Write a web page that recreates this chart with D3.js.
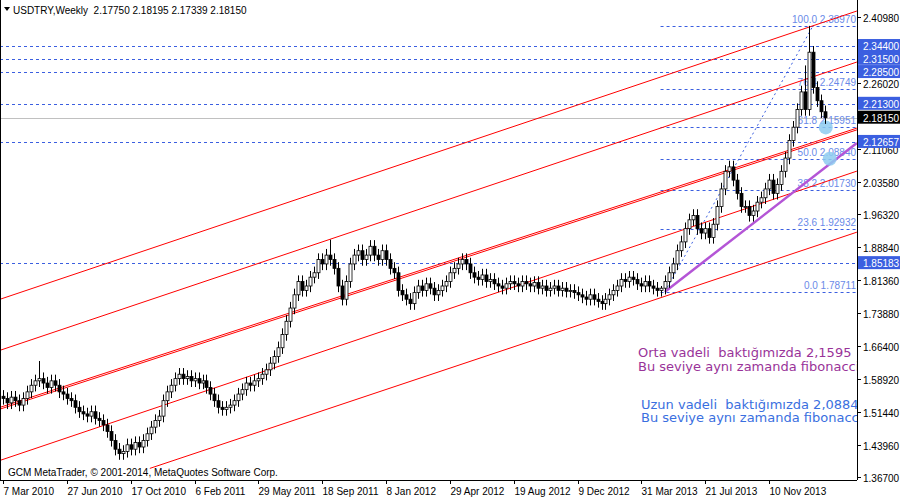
<!DOCTYPE html>
<html><head><meta charset="utf-8">
<script src="https://cdn.jsdelivr.net/npm/d3@7/dist/d3.min.js"></script>
<style>body{margin:0;background:#fff}svg{font-family:"Liberation Sans",Arial,sans-serif}</style>
</head><body><svg id="c" width="900" height="500"></svg>
<script>
const closes = [
1.545,1.535,1.548,1.540,1.530,1.545,1.560,1.575,1.585,1.590,
1.580,1.570,1.585,1.575,1.560,1.555,1.545,1.540,1.525,1.515,
1.510,1.505,1.515,1.500,1.495,1.485,1.470,1.450,1.430,1.420,
1.425,1.440,1.430,1.445,1.435,1.450,1.465,1.480,1.495,1.505,
1.540,1.560,1.575,1.590,1.600,1.590,1.595,1.585,1.590,
1.580,1.585,1.570,1.555,1.540,1.525,1.520,1.525,1.530,1.540,
1.555,1.565,1.580,1.575,1.585,1.590,1.600,1.610,1.625,1.640,
1.660,1.690,1.720,1.750,1.780,1.810,1.790,1.800,1.820,1.830,
1.860,1.850,1.870,1.860,1.840,1.800,1.770,1.810,1.850,1.870,
1.880,1.860,1.870,1.890,1.870,1.860,1.880,1.860,1.840,
1.830,1.790,1.780,1.770,1.760,1.785,1.800,1.790,1.805,1.795,
1.780,1.790,1.800,1.810,1.830,1.840,1.850,1.860,1.850,1.830,
1.820,1.815,1.825,1.810,1.815,1.805,1.800,1.795,1.805,1.810,
1.805,1.800,1.810,1.805,1.800,1.808,1.795,1.800,1.790,
1.795,1.800,1.790,1.795,1.788,1.790,1.785,1.780,1.775,1.770,
1.780,1.770,1.765,1.760,1.770,1.780,1.790,1.800,1.815,
1.810,1.820,1.815,1.805,1.800,1.810,1.800,1.795,1.790,1.795,
1.810,1.830,1.850,1.880,1.900,1.930,1.950,1.960,1.930,1.920,
1.930,1.910,1.940,1.980,2.020,2.060,2.070,2.040,2.010,1.980,
1.980,1.960,1.970,1.990,2.000,2.020,2.040,2.010,2.030,
2.060,2.090,2.130,2.160,2.200,2.240,2.200,2.330,2.250,2.220,2.195,2.1815];
const highOverride = {202: 2.3897, 201: 2.30, 165: 1.80, 9: 1.63, 82: 1.905};
const firstOpen = 1.550;
const xLabels = ["7 Mar 2010","27 Jun 2010","17 Oct 2010","6 Feb 2011","29 May 2011","18 Sep 2011","8 Jan 2012","29 Apr 2012","19 Aug 2012","9 Dec 2012","31 Mar 2013","21 Jul 2013","10 Nov 2013"];
const yTicks = [2.40980,2.26020,2.11060,2.03580,1.96320,1.88840,1.81360,1.73880,1.66400,1.58920,1.51440,1.43960,1.36700];
const hLevels = [2.34400,2.31500,2.28500,2.21300,2.12657,1.85183];
const fibLevels = [[100.0,2.38970],[76.4,2.24749],[61.8,2.15951],[50.0,2.08840],[38.2,2.01730],[23.6,1.92932],[0.0,1.78711]];
const channel = [[-0.75,1.7699,214,2.4234],[-0.75,1.6542,214,2.3077],[-0.75,1.5249,214,2.1579],[-0.75,1.5209,214,2.1539],[-0.75,1.4046,214,2.0604],[36.8,1.3865,214,1.9220]];
const purple = [165.9,1.7871,214,2.124];
const fibDiag = [165.9,1.7871,203,2.3897];
const circles = [[206.2,2.1595],[207.2,2.0884]];

const svg = d3.select("#c");
const W=857,H=480;
const x = d3.scaleLinear().domain([0,1]).range([3,6.99]);
const y = d3.scaleLinear().domain([1.367,2.4098]).range([477,17]);
const g = svg.append("g");
svg.append("defs").append("clipPath").attr("id","cp").append("rect").attr("width",W).attr("height",H);
g.attr("clip-path","url(#cp)");

g.selectAll(".hl").data(hLevels).join("line").attr("x1",0).attr("x2",W).attr("y1",d=>Math.round(y(d))+.5).attr("y2",d=>Math.round(y(d))+.5).attr("stroke","#3b5fe0").attr("stroke-dasharray","3,3");
g.append("line").attr("x1",0).attr("x2",W).attr("y1",Math.round(y(2.1815))+.5).attr("y2",Math.round(y(2.1815))+.5).attr("stroke","#c0c0c0");
const fx0 = x(164.8);
g.selectAll(".fl").data(fibLevels).join("line").attr("x1",fx0).attr("x2",W).attr("y1",d=>Math.round(y(d[1]))+.5).attr("y2",d=>Math.round(y(d[1]))+.5).attr("stroke","#3b5fe0").attr("stroke-dasharray","3,3");
g.selectAll(".ft").data(fibLevels).join("text").attr("x",W-1).attr("y",d=>y(d[1])-3).attr("text-anchor","end").attr("font-size",10).attr("fill","#6a8ae8").text(d=>d[0].toFixed(1)+" "+d[1].toFixed(5));
g.append("line").attr("x1",x(fibDiag[0])).attr("y1",y(fibDiag[1])).attr("x2",x(fibDiag[2])).attr("y2",y(fibDiag[3])).attr("stroke","#3b5fe0").attr("stroke-dasharray","2,3");
g.selectAll(".ch").data(channel).join("line").attr("x1",d=>x(d[0])).attr("y1",d=>y(d[1])).attr("x2",d=>x(d[2])).attr("y2",d=>y(d[3])).attr("stroke","#ff0000").attr("stroke-width",1);
g.append("line").attr("x1",x(purple[0])).attr("y1",y(purple[1])).attr("x2",x(purple[2])).attr("y2",y(purple[3])).attr("stroke","#b455d6").attr("stroke-width",2.5);
g.selectAll(".ci").data(circles).join("circle").attr("cx",d=>x(d[0])).attr("cy",d=>y(d[1])).attr("r",7).attr("fill","#8ecbf0").attr("opacity",0.85);
const bars = closes.map((c,i)=>{const o=i?closes[i-1]:firstOpen;return {i,o,c,h:highOverride[i]||Math.max(o,c)+0.014,l:Math.min(o,c)-0.014};});
const cg = g.selectAll(".cd").data(bars).join("g");
cg.append("line").attr("x1",d=>Math.round(x(d.i))+.5).attr("x2",d=>Math.round(x(d.i))+.5).attr("y1",d=>y(d.h)).attr("y2",d=>y(d.l)).attr("stroke","#000");
cg.append("rect").attr("x",d=>Math.round(x(d.i))-1).attr("width",3).attr("y",d=>y(Math.max(d.o,d.c))).attr("height",d=>Math.max(1,Math.abs(y(d.o)-y(d.c)))).attr("fill",d=>d.c>=d.o?"#fff":"#000").attr("stroke","#000").attr("stroke-width",0.8);
const ann = g.append("g").attr("font-family","'DejaVu Sans',sans-serif").attr("font-size",13);
ann.append("text").attr("x",638).attr("y",357).attr("fill","#993399").text("Orta vadeli\u00a0 baktığımızda 2,1595");
ann.append("text").attr("x",638).attr("y",371).attr("fill","#993399").text("Bu seviye aynı zamanda fibonacci");
ann.append("text").attr("x",641).attr("y",409).attr("fill","#3a6fe0").text("Uzun vadeli\u00a0 baktığımızda 2,0884");
ann.append("text").attr("x",641).attr("y",422).attr("fill","#3a6fe0").text("Bu seviye aynı zamanda fibonacci");
svg.append("text").attr("x",8).attr("y",476).attr("font-size",10).text("GCM MetaTrader, © 2001-2014, MetaQuotes Software Corp.");
svg.append("path").attr("d","M4,7 L10,7 L7,11 Z").attr("fill","#000");
svg.append("text").attr("x",13).attr("y",14).attr("font-size",10).text("USDTRY,Weekly\u00a0 2.17750 2.18195 2.17339 2.18150");
svg.append("line").attr("x1",W+.5).attr("x2",W+.5).attr("y1",0).attr("y2",H).attr("stroke","#000");
svg.append("line").attr("x1",0).attr("x2",W).attr("y1",H+.5).attr("y2",H+.5).attr("stroke","#000");
svg.append("line").attr("x1",.5).attr("x2",.5).attr("y1",0).attr("y2",H).attr("stroke","#000");
svg.selectAll(".yt").data(yTicks).join("g").each(function(d){const s=d3.select(this);const yy=Math.round(y(d))+.5;s.append("line").attr("x1",W).attr("x2",W+4).attr("y1",yy).attr("y2",yy).attr("stroke","#000");s.append("text").attr("x",863).attr("y",yy+4).attr("font-size",10).text(d.toFixed(5));});
const boxes = hLevels.map(v=>({v,bg:"#3b5fe0"})).concat([{v:2.1815,bg:"#000"}]);
svg.selectAll(".bx").data(boxes).join("g").each(function(d){const s=d3.select(this);const yy=y(d.v);s.append("rect").attr("x",W+1).attr("y",yy-7).attr("width",42).attr("height",13).attr("fill",d.bg);s.append("text").attr("x",863).attr("y",yy+4).attr("font-size",10).attr("fill","#fff").text(d.v.toFixed(5));});
svg.selectAll(".xt").data(xLabels).join("g").each(function(d,k){const s=d3.select(this);const xx=Math.round(x(k*16))+.5;s.append("line").attr("x1",xx).attr("x2",xx).attr("y1",H).attr("y2",H+4).attr("stroke","#000");s.append("text").attr("x",xx).attr("y",H+15).attr("font-size",10).text(d);});
</script></body></html>
